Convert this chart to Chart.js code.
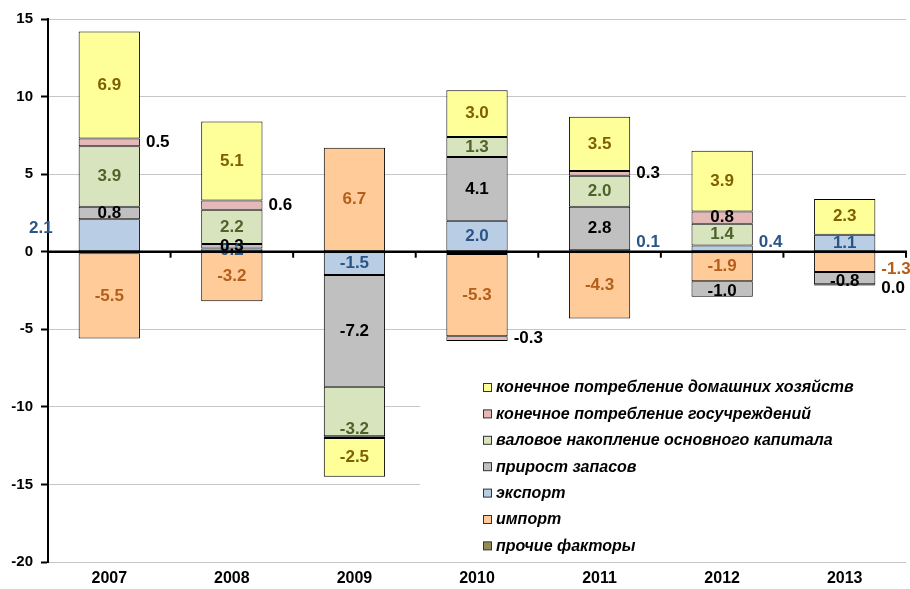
<!DOCTYPE html>
<html lang="ru">
<head>
<meta charset="UTF-8">
<title>Вклад компонентов спроса в рост ВВП</title>
<script src="https://cdn.jsdelivr.net/npm/chart.js"></script>
<style>
    html, body { margin: 0; padding: 0; background: #fff; }
    .chart-box { position: relative; width: 910px; height: 589px; }
</style>
</head>
<body>
<div class="chart-box"><canvas id="gdp-chart" width="910" height="589"></canvas></div>
<script>
// --- data ---
const years = ['2007', '2008', '2009', '2010', '2011', '2012', '2013'];
const households   = [6.9, 5.1, -2.5, 3.0, 3.5, 3.9, 2.3];
const government   = [0.5, 0.6, -0.1, -0.3, 0.3, 0.8, -0.04];
const fixedCapital = [3.9, 2.2, -3.2, 1.3, 2.0, 1.4, -0.06];
const inventories  = [0.8, 0.3, -7.2, 4.1, 2.8, -1.0, -0.8];
const exportsData  = [2.1, 0.2, -1.5, 2.0, 0.1, 0.4, 1.1];
const importsData  = [-5.5, -3.2, 6.7, -5.3, -4.3, -1.9, -1.3];
const otherFactors = [-0.1, 0, 0, -0.15, 0, 0, 0];
const yTicks = [15, 10, 5, 0, -5, -10, -15, -20];

const FONT = '"Liberation Sans", Arial, sans-serif';

// series in stacking order (closest to zero first)
const series = [
    { key: 'other', label: 'прочие факторы', data: otherFactors, fill: '#948A54', text: '#000' },
    { key: 'imp', label: 'импорт', data: importsData, fill: '#FFCC99', text: '#B35E1B' },
    { key: 'exp', label: 'экспорт', data: exportsData, fill: '#B9CDE5', text: '#2A5587' },
    { key: 'inv', label: 'прирост запасов', data: inventories, fill: '#C0C0C0', text: '#000' },
    { key: 'fix', label: 'валовое накопление основного капитала', data: fixedCapital, fill: '#D7E4BD', text: '#4F6228' },
    { key: 'gov', label: 'конечное потребление госучреждений', data: government, fill: '#E6B9B8', text: '#000' },
    { key: 'hh', label: 'конечное потребление домашних хозяйств', data: households, fill: '#FFFF99', text: '#7F6000' }
];

// where each value label goes: c = centre, r = right of bar, l = left of bar, '' = none
const labelPlace = {
    other: ['', '', '', '', '', '', ''],
    imp: ['c', 'c', 'c', 'c', 'c', 'c', 'r'],
    exp: ['l', 'c', 'c', 'c', 'r', 'r', 'c'],
    inv: ['c', 'c', 'c', 'c', 'c', 'c', 'c'],
    fix: ['c', 'c', 'c', 'c', 'c', 'c', ''],
    gov: ['r', 'r', '', 'r', 'r', 'c', 'r'],
    hh: ['c', 'c', 'c', 'c', 'c', 'c', 'c']
};
const labelNudge = { 'exp:0': -7, 'fix:2': 18, 'exp:4': -8, 'exp:5': -6, 'imp:6': 7, 'gov:6': 3, 'inv:6': 3, 'inv:5': 2 };

const datasets = series.map(s => ({
    label: s.label,
    data: s.data,
    backgroundColor: s.fill,
    borderColor: '#000',
    borderWidth: 1,
    borderSkipped: false,
    barPercentage: 0.5,
    categoryPercentage: 1.0
}));

// value labels
const valueLabels = {
    id: 'valueLabels',
    afterDatasetsDraw(chart) {
        const ctx = chart.ctx;
        ctx.save();
        ctx.font = 'bold 17px ' + FONT;
        ctx.textBaseline = 'middle';
        series.forEach((s, di) => {
            const meta = chart.getDatasetMeta(di);
            meta.data.forEach((bar, i) => {
                const place = labelPlace[s.key][i];
                if (!place) return;
                const v = s.data[i];
                let txt = v.toFixed(1);
                if (txt === '-0.0') txt = '0.0';
                const yMid = (bar.y + bar.base) / 2 + (labelNudge[s.key + ':' + i] || 0);
                const half = bar.width / 2;
                ctx.fillStyle = s.text;
                if (place === 'c') {
                    ctx.textAlign = 'center';
                    ctx.fillText(txt, bar.x, yMid);
                } else if (place === 'r') {
                    ctx.textAlign = 'left';
                    ctx.fillText(txt, bar.x + half + 6, yMid);
                } else {
                    ctx.textAlign = 'right';
                    ctx.fillText(txt, bar.x - half - 26, yMid);
                }
            });
        });
        ctx.restore();
    }
};

// horizontal axis at zero with category tick marks
const zeroAxis = {
    id: 'zeroAxis',
    afterDatasetsDraw(chart) {
        const { ctx, chartArea, scales } = chart;
        const y0 = scales.y.getPixelForValue(0);
        const xs = scales.x;
        ctx.save();
        ctx.strokeStyle = '#000';
        ctx.lineWidth = 2.5;
        ctx.beginPath();
        ctx.moveTo(chartArea.left, y0);
        ctx.lineTo(chartArea.right + 1, y0);
        ctx.stroke();
        ctx.lineWidth = 2;
        for (let i = 1; i <= years.length; i++) {
            const x = i < years.length
                ? (xs.getPixelForTick(i - 1) + xs.getPixelForTick(i)) / 2
                : chartArea.right;
            ctx.beginPath();
            ctx.moveTo(x, y0);
            ctx.lineTo(x, y0 + 6);
            ctx.stroke();
        }
        ctx.restore();
    }
};

// legend drawn inside the plot area, lower right
const innerLegend = {
    id: 'innerLegend',
    afterDatasetsDraw(chart) {
        const ctx = chart.ctx;
        const area = chart.chartArea;
        const boxX = 420, boxY = 366;
        ctx.save();
        ctx.fillStyle = '#fff';
        ctx.fillRect(boxX, boxY, area.right - boxX, 190);
        ctx.font = 'italic bold 16px ' + FONT;
        ctx.textBaseline = 'middle';
        ctx.textAlign = 'left';
        const items = series.slice().reverse();
        items.forEach((s, i) => {
            const y = 388 + i * 26.4;
            ctx.fillStyle = s.fill;
            ctx.fillRect(483.5, y - 4.5, 8, 8);
            ctx.strokeStyle = '#333';
            ctx.lineWidth = 1;
            ctx.strokeRect(483.5, y - 4.5, 8, 8);
            ctx.fillStyle = '#000';
            ctx.fillText(s.label, 496, y);
        });
        ctx.restore();
    }
};

new Chart(document.getElementById('gdp-chart'), {
    type: 'bar',
    data: { labels: years, datasets: datasets },
    plugins: [valueLabels, zeroAxis, innerLegend],
    options: {
        responsive: false,
        animation: false,
        layout: { padding: { top: 19, right: 4, bottom: 4, left: 0 } },
        plugins: {
            legend: { display: false },
            tooltip: { enabled: false }
        },
        scales: {
            x: {
                stacked: true,
                grid: { display: false, drawTicks: false },
                border: { display: false },
                ticks: { color: '#000', padding: 7, font: { family: FONT, size: 16, weight: 'bold' } },
                afterFit(scale) { scale.height = 23; }
            },
            y: {
                stacked: true,
                min: -20,
                max: 15,
                afterBuildTicks(scale) { scale.ticks = yTicks.map(v => ({ value: v })); },
                grid: {
                    color: c => (c.tick && c.tick.value === 0) ? 'rgba(0,0,0,0)' : '#C6C6C6',
                    lineWidth: 1,
                    tickColor: '#000',
                    tickWidth: 2,
                    tickLength: 7
                },
                border: { display: true, color: '#000', width: 2 },
                ticks: { color: '#000', padding: 8, autoSkip: false, font: { family: FONT, size: 15, weight: 'bold' } },
                afterFit(scale) { scale.width = 48; }
            }
        }
    }
});
</script>
</body>
</html>
